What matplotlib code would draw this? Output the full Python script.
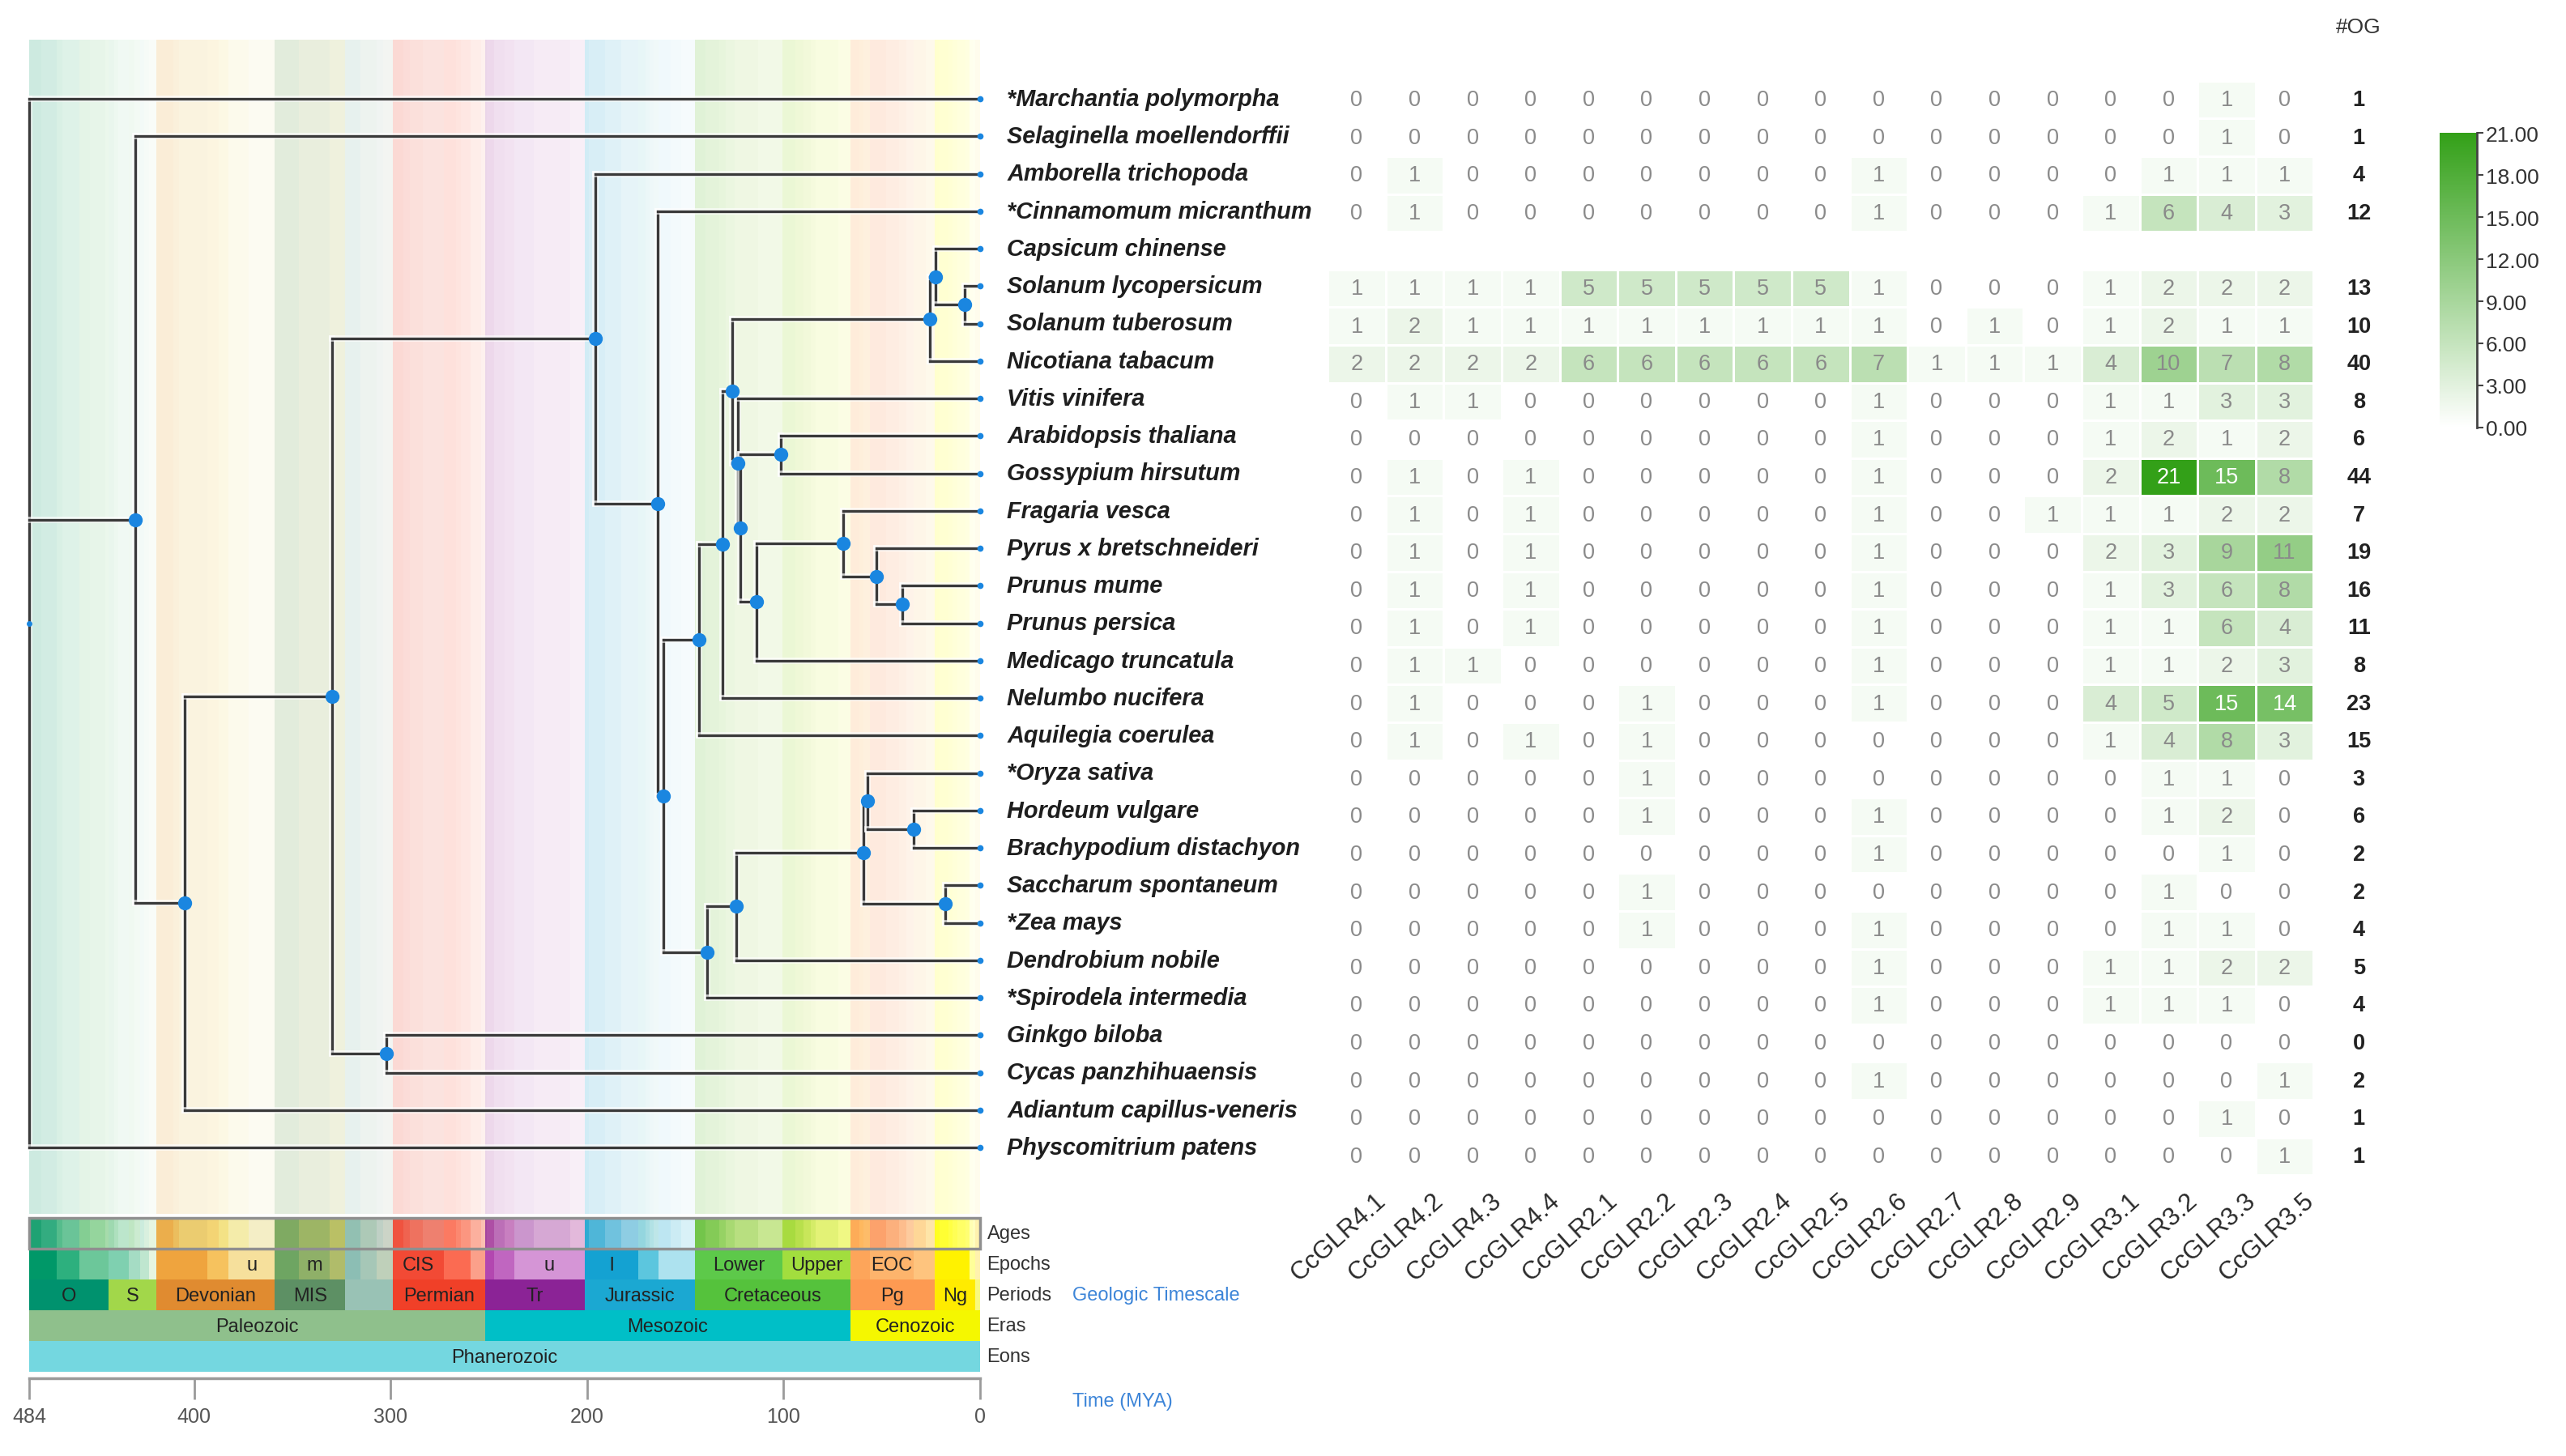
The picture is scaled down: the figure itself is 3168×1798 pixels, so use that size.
import numpy as np
import matplotlib
matplotlib.use('Agg')
import matplotlib.pyplot as plt
import matplotlib.patheffects as pe
from matplotlib.colors import LinearSegmentedColormap, Normalize
from matplotlib.cm import ScalarMappable
from matplotlib.patches import Rectangle

plt.rcParams['font.family'] = ['Liberation Sans', 'DejaVu Sans']

# ---- data ----
species = ["*Marchantia polymorpha", "Selaginella moellendorffii", "Amborella trichopoda",
           "*Cinnamomum micranthum", "Capsicum chinense", "Solanum lycopersicum",
           "Solanum tuberosum", "Nicotiana tabacum", "Vitis vinifera", "Arabidopsis thaliana",
           "Gossypium hirsutum", "Fragaria vesca", "Pyrus x bretschneideri", "Prunus mume",
           "Prunus persica", "Medicago truncatula", "Nelumbo nucifera", "Aquilegia coerulea",
           "*Oryza sativa", "Hordeum vulgare", "Brachypodium distachyon", "Saccharum spontaneum",
           "*Zea mays", "Dendrobium nobile", "*Spirodela intermedia", "Ginkgo biloba",
           "Cycas panzhihuaensis", "Adiantum capillus-veneris", "Physcomitrium patens"]

genes = ["CcGLR4.1", "CcGLR4.2", "CcGLR4.3", "CcGLR4.4", "CcGLR2.1", "CcGLR2.2", "CcGLR2.3",
         "CcGLR2.4", "CcGLR2.5", "CcGLR2.6", "CcGLR2.7", "CcGLR2.8", "CcGLR2.9", "CcGLR3.1",
         "CcGLR3.2", "CcGLR3.3", "CcGLR3.5"]

nan = np.nan
counts = [
    [0, 0, 0, 0, 0, 0, 0, 0, 0, 0, 0, 0, 0, 0, 0, 1, 0],
    [0, 0, 0, 0, 0, 0, 0, 0, 0, 0, 0, 0, 0, 0, 0, 1, 0],
    [0, 1, 0, 0, 0, 0, 0, 0, 0, 1, 0, 0, 0, 0, 1, 1, 1],
    [0, 1, 0, 0, 0, 0, 0, 0, 0, 1, 0, 0, 0, 1, 6, 4, 3],
    [nan] * 17,
    [1, 1, 1, 1, 5, 5, 5, 5, 5, 1, 0, 0, 0, 1, 2, 2, 2],
    [1, 2, 1, 1, 1, 1, 1, 1, 1, 1, 0, 1, 0, 1, 2, 1, 1],
    [2, 2, 2, 2, 6, 6, 6, 6, 6, 7, 1, 1, 1, 4, 10, 7, 8],
    [0, 1, 1, 0, 0, 0, 0, 0, 0, 1, 0, 0, 0, 1, 1, 3, 3],
    [0, 0, 0, 0, 0, 0, 0, 0, 0, 1, 0, 0, 0, 1, 2, 1, 2],
    [0, 1, 0, 1, 0, 0, 0, 0, 0, 1, 0, 0, 0, 2, 21, 15, 8],
    [0, 1, 0, 1, 0, 0, 0, 0, 0, 1, 0, 0, 1, 1, 1, 2, 2],
    [0, 1, 0, 1, 0, 0, 0, 0, 0, 1, 0, 0, 0, 2, 3, 9, 11],
    [0, 1, 0, 1, 0, 0, 0, 0, 0, 1, 0, 0, 0, 1, 3, 6, 8],
    [0, 1, 0, 1, 0, 0, 0, 0, 0, 1, 0, 0, 0, 1, 1, 6, 4],
    [0, 1, 1, 0, 0, 0, 0, 0, 0, 1, 0, 0, 0, 1, 1, 2, 3],
    [0, 1, 0, 0, 0, 1, 0, 0, 0, 1, 0, 0, 0, 4, 5, 15, 14],
    [0, 1, 0, 1, 0, 1, 0, 0, 0, 0, 0, 0, 0, 1, 4, 8, 3],
    [0, 0, 0, 0, 0, 1, 0, 0, 0, 0, 0, 0, 0, 0, 1, 1, 0],
    [0, 0, 0, 0, 0, 1, 0, 0, 0, 1, 0, 0, 0, 0, 1, 2, 0],
    [0, 0, 0, 0, 0, 0, 0, 0, 0, 1, 0, 0, 0, 0, 0, 1, 0],
    [0, 0, 0, 0, 0, 1, 0, 0, 0, 0, 0, 0, 0, 0, 1, 0, 0],
    [0, 0, 0, 0, 0, 1, 0, 0, 0, 1, 0, 0, 0, 0, 1, 1, 0],
    [0, 0, 0, 0, 0, 0, 0, 0, 0, 1, 0, 0, 0, 1, 1, 2, 2],
    [0, 0, 0, 0, 0, 0, 0, 0, 0, 1, 0, 0, 0, 1, 1, 1, 0],
    [0, 0, 0, 0, 0, 0, 0, 0, 0, 0, 0, 0, 0, 0, 0, 0, 0],
    [0, 0, 0, 0, 0, 0, 0, 0, 0, 1, 0, 0, 0, 0, 0, 0, 1],
    [0, 0, 0, 0, 0, 0, 0, 0, 0, 0, 0, 0, 0, 0, 0, 1, 0],
    [0, 0, 0, 0, 0, 0, 0, 0, 0, 0, 0, 0, 0, 0, 0, 0, 1],
]
og_counts = [1, 1, 4, 12, None, 13, 10, 40, 8, 6, 44, 7, 19, 16, 11, 8, 23, 15,
             3, 6, 2, 2, 4, 5, 4, 0, 2, 1, 1]

# tree: internal nodes, ages in MYA; ints are tip rows
node_names = ['root', 'n430', 'n405', 'n330', 'gymno', 'angio', 'n164', 'n161',
              'eudicot', 'n131', 'n126', 'solan', 'n23', 'solanum', 'n123', 'n122',
              'malv', 'n114', 'ros', 'n53', 'prunus',
              'monocot', 'n124', 'poa', 'n57', 'n34', 'pan']
node_ages = [484, 430, 405, 330, 302, 196, 164, 161,
             143, 131, 126, 25.6, 22.7, 7.8, 123.3, 122,
             101.4, 113.8, 69.7, 52.8, 39.6,
             139, 124, 59.4, 57.3, 33.8, 17.7]
node_children = [[0, 'n430', 28], [1, 'n405'], ['n330', 27], ['angio', 'gymno'], [25, 26],
                 [2, 'n164'], [3, 'n161'], ['eudicot', 'monocot'],
                 ['n131', 17], ['n126', 16], ['solan', 'n123'], ['n23', 7], [4, 'solanum'], [5, 6],
                 [8, 'n122'], ['malv', 'n114'], [9, 10], ['ros', 15], [11, 'n53'], [12, 'prunus'],
                 [13, 14],
                 ['n124', 24], ['poa', 23], ['n57', 'pan'], [18, 'n34'], [19, 20], [21, 22]]

# geologic time scale (older boundary of each unit, MYA)
age_start = [485.4, 477.7, 470.0, 467.3, 458.4, 453.0, 445.2,
             443.8, 440.8, 438.5, 433.4, 430.5, 427.4, 425.6, 423.0,
             419.2, 410.8, 407.6, 393.3, 387.7, 382.7, 372.2,
             358.9, 346.7, 330.9, 323.2, 315.2, 307.0, 303.7,
             298.9, 293.52, 290.1, 283.5, 273.01, 266.9, 264.28, 259.51, 254.14,
             251.9, 251.2, 247.2, 242.0, 237.0, 227.0, 208.5,
             201.3, 199.3, 190.8, 182.7, 174.1, 170.3, 168.3, 166.1, 163.5, 157.3, 152.1,
             145.0, 139.8, 132.9, 129.4, 125.0, 113.0, 100.5, 93.9, 89.8, 86.3, 83.6, 72.1,
             66.0, 61.6, 59.2, 56.0, 47.8, 41.2, 37.71, 33.9, 27.82,
             23.03, 20.44, 15.97, 13.82, 11.63, 7.246, 5.333, 3.6, 2.58]
age_colors = ['#1FA273', '#33AC80', '#55BC8C', '#6AC498', '#84CE93', '#95D59D', '#A6DBAB',
              '#9ED9B0', '#AEE0BE', '#BCE6CC', '#BFE6C3', '#CCEBD1', '#CCECDD', '#D9F0DF', '#E6F5E1',
              '#EBAE4C', '#EBBE5E', '#EBCC70', '#F3D474', '#F3E285', '#F4ECAA', '#F4EEC6',
              '#7FAA62', '#9DB565', '#BAC065', '#92C0B2', '#ADC9B7', '#BFD0C5', '#CCD4C7',
              '#F0533F', '#EF6350', '#EE725F', '#EE806F', '#FB7A62', '#FB8870', '#FB9680', '#FCB09E', '#FCC0B2',
              '#A4469F', '#AE4FA5', '#BC6FB7', '#C87FC0', '#CB96CD', '#D6A8D4', '#E3B9DB',
              '#2FABD2', '#4FB6D8', '#70C2DE', '#8ECDE3', '#94D6DF', '#A4DCE2', '#B2E2E5', '#BEE6E8',
              '#BDE6F2', '#CCECF4', '#D9F1F7',
              '#73C54B', '#84CB57', '#96D264', '#A8D972', '#B8DF80', '#C8E792', '#A8DB40', '#B8E04C',
              '#C8E65A', '#D5EC68', '#E3F276', '#F0F884',
              '#FDAC58', '#FEB85F', '#FDBC69', '#FCA26C', '#FCB07D', '#FDBD8D', '#FDCB9E', '#FED797', '#FEE5A8',
              '#FFFF20', '#FFFF33', '#FFFF44', '#FFFF55', '#FFFF66', '#FFFF73', '#FFFFB3', '#FFFFBF', '#FFF2AE']

epoch_start = [485.4, 470.0, 458.4, 443.8, 433.4, 427.4, 423.0, 419.2, 393.3, 382.7,
               358.9, 346.7, 330.9, 323.2, 315.2, 307.0, 298.9, 273.01, 259.51,
               251.9, 247.2, 237.0, 201.3, 174.1, 163.5, 145.0, 100.5,
               66.0, 56.0, 33.9, 23.03, 5.333, 2.58, 0.0117]
epoch_colors = ['#009868', '#2DB07E', '#6CC79A', '#7FD0B0', '#A5DCC4', '#BFE6CF', '#E6F5E1',
                '#EFA43E', '#F6C25E', '#F6E09C', '#6EA562', '#8FB068', '#B0BC6A',
                '#8CBEB4', '#A6C7B7', '#BFD0BA', '#F24A35', '#FB6B52', '#FBA08A',
                '#B347B0', '#C066C0', '#D595D6', '#14A2D2', '#5CC6DE', '#ADE2EF',
                '#5DC94A', '#A2DE3E', '#FDA55A', '#FDB46C', '#FEC47E', '#FFF200', '#FFFF99',
                '#FFF2AE', '#FEF2E0']
epoch_labels = ['', '', '', '', '', '', '', '', '', 'u', '', 'm', '', '', '', '', 'CIS', '', '',
                '', '', 'u', 'l', '', '', 'Lower', 'Upper', '', 'EOC', '', '', '', '', '']

period_start = [485.4, 443.8, 419.2, 358.9, 323.2, 298.9, 251.9, 201.3, 145.0, 66.0, 23.03, 2.58]
period_labels = ['O', 'S', 'Devonian', 'MIS', '', 'Permian', 'Tr', 'Jurassic', 'Cretaceous',
                 'Pg', 'Ng', '']
period_colors = ['#00926E', '#A2D74A', '#E08B30', '#5D9064', '#99C2B5', '#F04028', '#8B2396',
                 '#1BA8D2', '#55C23C', '#FD9A52', '#FFEB00', '#F9F97F']

era_start = [485.4, 251.9, 66.0]
era_labels = ['Paleozoic', 'Mesozoic', 'Cenozoic']
era_colors = ['#8FC08C', '#00BFC7', '#F5F700']

eon_start = [485.4]
eon_labels = ['Phanerozoic']
eon_colors = ['#74D7E0']

row_names = ['Ages', 'Epochs', 'Periods', 'Eras', 'Eons']
time_ticks = [484, 400, 300, 200, 100, 0]

# ---- layout (pixel boxes) ----
W, H = 3168, 1799
fig = plt.figure(figsize=(W / 100, H / 100), dpi=100)


def px_axes(x0, y0, x1, y1):
    return fig.add_axes([x0 / W, 1 - y1 / H, (x1 - x0) / W, (y1 - y0) / H])


T_MAX = 484
BLUE = '#1A86E0'
LINE = '#3a3a3a'


def intervals(starts):
    ends = starts[1:] + [0.0]
    return [(min(s, T_MAX), e) for s, e in zip(starts, ends)]


# ---- tree ----
row_top, row_gap = 123, 46.25
ax = px_axes(36, 50, 1210, 1500)
ax.set_xlim(T_MAX, 0)
ax.set_ylim((1500 - row_top) / row_gap, (50 - row_top) / row_gap)
ax.axis('off')

for (s, e), c in zip(intervals(age_start), age_colors):
    ax.axvspan(e, s, color=c, alpha=0.22, lw=0, zorder=0)

node_y = {}


def get_y(c):
    if isinstance(c, int):
        return float(c)
    if c not in node_y:
        kids = node_children[node_names.index(c)]
        node_y[c] = (get_y(kids[0]) + get_y(kids[-1])) / 2
    return node_y[c]


def get_age(c):
    return 0.0 if isinstance(c, int) else node_ages[node_names.index(c)]


halo = [pe.Stroke(linewidth=5.5, foreground='white', alpha=0.7), pe.Normal()]
for name, age, kids in zip(node_names, node_ages, node_children):
    ys = [get_y(k) for k in kids]
    ax.plot([age, age], [min(ys), max(ys)], color=LINE, lw=2.4,
            solid_capstyle='projecting', clip_on=False, zorder=3, path_effects=halo)
    for k in kids:
        ax.plot([age, get_age(k)], [get_y(k)] * 2, color=LINE, lw=2.4,
                solid_capstyle='projecting', clip_on=False, zorder=3, path_effects=halo)

inner = [n for n in node_names if n != 'root']
ax.plot([get_age(n) for n in inner], [get_y(n) for n in inner], 'o', ms=12.5,
        color=BLUE, mec='none', zorder=5, clip_on=False)
ax.plot([T_MAX], [get_y('root')], 'o', ms=5, color=BLUE, mec='none', zorder=5, clip_on=False)
ax.plot(np.zeros(len(species)), np.arange(len(species)), 'o', ms=5.5, color=BLUE,
        mec='none', zorder=5, clip_on=False)

for i, sp in enumerate(species):
    ax.annotate(sp, xy=(0, i), xytext=(24, 0), textcoords='offset points',
                ha='left', va='center', fontsize=20.8, fontweight='bold',
                style='italic', color='#1e1e1e', annotation_clip=False)

# ---- heatmap ----
h_top, h_gap = 124, 46.6
c_left, c_gap = 1675, 71.6
axh = px_axes(c_left - c_gap / 2, h_top - h_gap / 2,
              c_left + c_gap * 16.5, h_top + h_gap * 28.5)
data = np.ma.masked_invalid(np.array(counts, dtype=float))
cmap = LinearSegmentedColormap.from_list('wg', ['#ffffff', '#33A018'])
norm = Normalize(0, 21)
axh.pcolormesh(np.arange(len(genes) + 1) - 0.5, np.arange(len(species) + 1) - 0.5, data,
               cmap=cmap, norm=norm, edgecolors='white', linewidth=2)
axh.set_xlim(-0.5, len(genes) - 0.5)
axh.set_ylim(len(species) - 0.5, -0.5)
axh.axis('off')

for i, row in enumerate(counts):
    for j, v in enumerate(row):
        if np.isnan(v):
            continue
        axh.text(j, i, '%d' % v, ha='center', va='center', fontsize=19.5,
                 color='white' if v >= 14 else '#8a8a8a')
    if og_counts[i] is not None:
        axh.text(17.28, i, str(og_counts[i]), ha='center', va='center', fontsize=19.5,
                 fontweight='bold', color='#222222', clip_on=False)
axh.text(17.28, -1.93, '#OG', ha='center', va='center', fontsize=19, color='#333333',
         clip_on=False)

for j, g in enumerate(genes):
    axh.text(j + 0.3, 28.85, g, rotation=42, rotation_mode='anchor', ha='right', va='top',
             fontsize=22.5, color='#2a2a2a', clip_on=False)

# ---- colorbar ----
cax = px_axes(3012, 165, 3058, 529)
cb = fig.colorbar(ScalarMappable(norm=norm, cmap=cmap), cax=cax, ticks=np.arange(0, 22, 3))
cb.outline.set_visible(False)
cax.spines['right'].set_visible(True)
cax.spines['right'].set_color('#444444')
cax.spines['right'].set_linewidth(2)
cax.set_yticklabels(['%.2f' % t for t in np.arange(0, 22, 3)])
cax.tick_params(axis='y', direction='out', length=6, width=1.5, colors='#444444',
                labelsize=19, labelcolor='#333333', pad=2)

# ---- geologic timescale ----
axt = px_axes(36, 1505, 1210, 1695)
axt.set_xlim(T_MAX, 0)
axt.set_ylim(5, 0)

scale_rows = [(age_start, age_colors, None), (epoch_start, epoch_colors, epoch_labels),
              (period_start, period_colors, period_labels), (era_start, era_colors, era_labels),
              (eon_start, eon_colors, eon_labels)]
for r, (starts, colors, labels) in enumerate(scale_rows):
    ivs = intervals(starts)
    axt.barh([r + 0.5] * len(ivs), [s - e for s, e in ivs], left=[e for s, e in ivs],
             height=1, color=colors, lw=0)
    if labels:
        for (s, e), lab in zip(ivs, labels):
            if lab:
                axt.text((s + e) / 2, r + 0.52, lab, ha='center', va='center',
                         fontsize=17, color='#222222')
    axt.text(-3.5, r + 0.5, row_names[r], ha='left', va='center', fontsize=17,
             color='#333333', clip_on=False)

axt.add_patch(Rectangle((0, 0), T_MAX, 1, fill=False, ec='#8f8f8f', lw=2.5, clip_on=False))
axt.text(-47, 2.5, 'Geologic Timescale', ha='left', va='center', fontsize=17,
         color='#3D85D8', clip_on=False)
axt.text(-47, 5.95, 'Time (MYA)', ha='left', va='center', fontsize=17,
         color='#3D85D8', clip_on=False)

for side in ['top', 'left', 'right']:
    axt.spines[side].set_visible(False)
axt.spines['bottom'].set_position(('outward', 6))
axt.spines['bottom'].set_color('#9a9a9a')
axt.spines['bottom'].set_linewidth(2.5)
axt.set_yticks([])
axt.set_xticks(time_ticks)
axt.tick_params(axis='x', length=19, width=2, color='#9a9a9a', labelcolor='#555555',
                labelsize=18, pad=6)

fig.savefig('out.png', dpi=100, facecolor='white')
